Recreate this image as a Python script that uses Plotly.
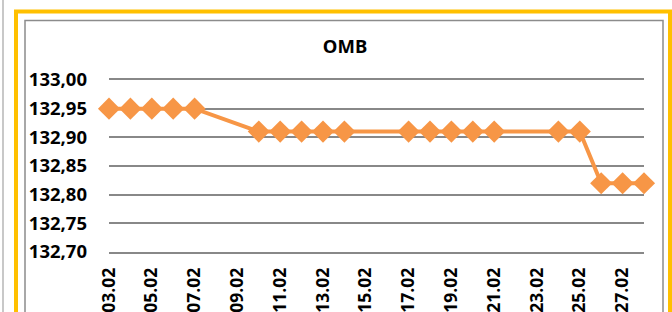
import plotly.graph_objects as go
from datetime import datetime

YEAR = 2024
dates = ["03.02", "04.02", "05.02", "06.02", "07.02",
         "10.02", "11.02", "12.02", "13.02", "14.02",
         "17.02", "18.02", "19.02", "20.02", "21.02",
         "24.02", "25.02", "26.02", "27.02", "28.02"]
values = [132.95, 132.95, 132.95, 132.95, 132.95,
          132.91, 132.91, 132.91, 132.91, 132.91,
          132.91, 132.91, 132.91, 132.91, 132.91,
          132.91, 132.91, 132.82, 132.82, 132.82]
y_ticks = [132.70, 132.75, 132.80, 132.85, 132.90, 132.95, 133.00]
title_text = "OMB"

x = [datetime.strptime(f"{d}.{YEAR}", "%d.%m.%Y") for d in dates]

W, H = 672, 312
PL, PR, PT, PB = 109, 644, 80, 252  # plot area in pixels
FONT = "Noto Sans"
ORANGE = "#F79646"
GRID = "#888888"


def px(xp):
    return (xp - PL) / (PR - PL)


def py(yp):
    return (PB - yp) / (PB - PT)


fig = go.Figure()
fig.add_trace(go.Scatter(
    x=x, y=values, mode="lines+markers",
    line=dict(color=ORANGE, width=4),
    marker=dict(symbol="diamond", size=17, color=ORANGE),
    cliponaxis=False, showlegend=False,
))

shapes = [
    dict(type="line", xref="paper", yref="paper", x0=px(3), x1=px(3), y0=py(0), y1=py(H + 5),
         line=dict(color="#C8C8C8", width=2), layer="below"),
    dict(type="rect", xref="paper", yref="paper", x0=px(16), x1=px(670), y0=py(11.5), y1=py(H + 20),
         line=dict(color="#FFC000", width=4), layer="below"),
    dict(type="rect", xref="paper", yref="paper", x0=px(25), x1=px(663), y0=py(20.5), y1=py(H + 20),
         line=dict(color="#8C8C8C", width=1.5), layer="below"),
]

y_tick_font = dict(size=18.5, family=FONT, color="black", weight="bold")
x_tick_font = dict(size=17.5, family=FONT, color="black", weight="bold")

fig.update_layout(
    width=W, height=H,
    margin=dict(l=PL, r=W - PR, t=PT, b=H - PB, pad=0, autoexpand=False),
    paper_bgcolor="white", plot_bgcolor="white",
    separators=", ",
    font=dict(family=FONT, color="black"),
    title=dict(text=f"<b>{title_text}</b>", xref="container", yref="container",
               x=345 / W, y=1 - 47 / H, xanchor="center", yanchor="middle",
               font=dict(size=18.5, family=FONT, color="black")),
    shapes=shapes,
    xaxis=dict(type="date", range=[x[0], x[-1]], tick0=x[0], dtick=2 * 86400000,
               tickformat="%d.%m", tickangle=-90, showgrid=False, zeroline=False,
               showline=True, linecolor=GRID, linewidth=1.5, mirror=True,
               ticks="", ticklabelstandoff=7, tickfont=x_tick_font, automargin=False),
    yaxis=dict(range=[y_ticks[0], y_ticks[-1]], tickvals=y_ticks, tickformat=".2f",
               showgrid=True, gridcolor=GRID, gridwidth=1.5, zeroline=False,
               showline=False, ticks="", ticklabelstandoff=21, tickfont=y_tick_font,
               automargin=False),
)

fig.write_html("out.html", config={"displayModeBar": False},
               post_script="document.body.style.margin='0';")
